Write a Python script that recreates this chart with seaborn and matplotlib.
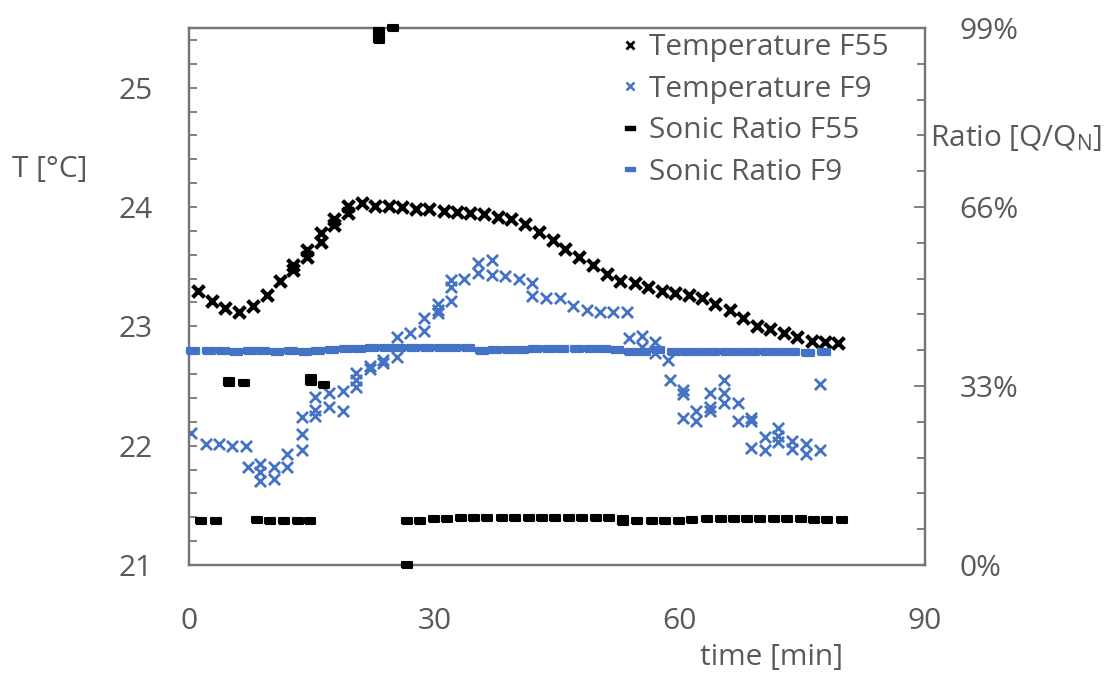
import matplotlib
matplotlib.use("Agg")
import matplotlib.pyplot as plt
from matplotlib.lines import Line2D
from matplotlib.ticker import MultipleLocator, FixedLocator, FuncFormatter
import seaborn as sns

# ---------------- data ----------------
# Temperature F55 (left axis, °C)
t_temp_f55 = [1.1, 2.8, 4.4, 6.1, 7.8, 9.5, 11.1, 12.7, 12.7, 14.4, 14.4, 16.1, 16.1,
              17.7, 17.7, 19.4, 19.4, 21.1, 22.8, 24.5, 26.1, 27.8, 29.4, 31.2, 32.8,
              34.4, 36.1, 37.8, 39.4, 41.1, 42.8, 44.5, 46.0, 47.7, 49.4, 51.1, 52.7,
              54.5, 56.1, 57.8, 59.4, 61.1, 62.7, 64.3, 66.2, 67.8, 69.4, 71.1, 72.8,
              74.4, 76.2, 77.8, 79.4]
temp_f55 = [23.30, 23.21, 23.15, 23.12, 23.17, 23.26, 23.38, 23.51, 23.47, 23.64, 23.58,
            23.78, 23.71, 23.90, 23.85, 24.01, 23.95, 24.03, 24.01, 24.01, 24.00, 23.98,
            23.98, 23.97, 23.96, 23.95, 23.94, 23.92, 23.90, 23.86, 23.79, 23.72, 23.65,
            23.58, 23.51, 23.44, 23.38, 23.36, 23.33, 23.30, 23.28, 23.26, 23.24, 23.19,
            23.14, 23.07, 23.00, 22.98, 22.94, 22.91, 22.88, 22.87, 22.86]

# Temperature F9 (left axis, °C)
t_temp_f9 = [0.2, 2.1, 3.7, 5.3, 7.0, 7.2, 8.7, 8.7, 8.7, 10.4, 10.4, 12.0, 12.0,
             13.8, 13.8, 13.8, 15.4, 15.4, 15.4, 17.1, 17.1, 18.8, 18.8, 20.4, 20.4, 20.4,
             22.1, 22.1, 23.7, 23.7, 25.4, 25.4, 27.0, 28.7, 28.7, 30.4, 30.4, 30.4,
             32.0, 32.0, 32.0, 33.6, 35.4, 35.4, 37.0, 37.0, 38.7, 40.3, 42.0, 42.0,
             43.7, 45.4, 47.0, 48.7, 50.3, 51.9, 53.6, 53.8, 55.4, 55.4, 57.0, 57.0,
             58.6, 58.8, 60.4, 60.4, 60.4, 62.0, 62.0, 63.7, 63.7, 63.7, 65.4, 65.4, 65.4,
             67.1, 67.1, 68.7, 68.7, 68.7, 70.4, 70.4, 72.0, 72.0, 72.0, 73.7, 73.7,
             75.4, 75.4, 77.1, 77.1]
temp_f9 = [22.11, 22.01, 22.01, 22.00, 22.00, 21.82, 21.85, 21.78, 21.70, 21.82, 21.72,
           21.82, 21.93, 21.96, 22.10, 22.24, 22.25, 22.30, 22.41, 22.44, 22.32, 22.46, 22.29,
           22.49, 22.55, 22.61, 22.64, 22.67, 22.69, 22.72, 22.74, 22.91, 22.94, 22.96, 23.07,
           23.11, 23.14, 23.19, 23.21, 23.33, 23.39, 23.40, 23.45, 23.53, 23.56, 23.43,
           23.42, 23.40, 23.36, 23.25, 23.24, 23.24, 23.17, 23.14, 23.12, 23.12, 23.12,
           22.90, 22.92, 22.83, 22.87, 22.78, 22.72, 22.55, 22.47, 22.43, 22.23, 22.29, 22.21,
           22.44, 22.32, 22.29, 22.55, 22.44, 22.36, 22.36, 22.21, 22.23, 22.21, 21.98,
           22.07, 21.96, 22.15, 22.08, 22.03, 22.04, 21.97, 22.01, 21.93, 21.96, 22.52]

# Sonic Ratio F55 (right axis, Q/QN)
t_ratio_f55 = [1.5, 3.3, 4.9, 4.9, 6.7, 8.3, 9.9, 11.6, 13.3, 14.8, 14.9, 14.9, 16.5,
               23.2, 23.2, 23.2, 24.9, 26.6, 26.6, 28.2, 30.0, 31.6, 33.2, 34.9, 36.5,
               38.3, 39.9, 41.6, 43.2, 44.8, 46.5, 48.1, 49.8, 51.4, 53.1, 53.1, 54.8,
               56.6, 58.2, 59.9, 61.5, 63.3, 65.0, 66.6, 68.2, 69.8, 71.5, 73.1, 74.8,
               76.4, 78.0, 79.8]
ratio_f55 = [0.0815, 0.0815, 0.340, 0.335, 0.336, 0.083, 0.081, 0.081, 0.081, 0.081,
             0.344, 0.337, 0.331, 0.985, 0.976, 0.968, 0.990, 0.000, 0.081, 0.082, 0.085,
             0.085, 0.086, 0.086, 0.087, 0.087, 0.087, 0.087, 0.087, 0.087, 0.087, 0.087,
             0.087, 0.087, 0.085, 0.080, 0.082, 0.082, 0.082, 0.082, 0.083, 0.085, 0.085,
             0.085, 0.085, 0.085, 0.085, 0.085, 0.085, 0.083, 0.083, 0.083]

# Sonic Ratio F9 (right axis, Q/QN)
t_ratio_f9 = [0.45, 2.5, 4.1, 5.7, 7.5, 9.1, 10.8, 12.5, 14.2, 15.8, 17.5, 19.2, 20.8,
              22.4, 24.1, 25.7, 27.4, 29.1, 30.8, 32.4, 34.1, 35.8, 37.4, 39.1, 40.7,
              42.3, 44.0, 45.6, 47.5, 49.1, 50.7, 52.3, 54.1, 55.6, 57.4, 59.3, 60.9,
              62.5, 64.1, 65.8, 67.4, 69.0, 70.7, 72.3, 73.9, 75.7, 77.6]
ratio_f9 = [0.3944, 0.3944, 0.3944, 0.3932, 0.3944, 0.3944, 0.3932, 0.3944, 0.3932,
            0.3944, 0.3962, 0.3975, 0.3987, 0.3993, 0.3993, 0.4005, 0.3993, 0.3993,
            0.3993, 0.3993, 0.3993, 0.3944, 0.3956, 0.3962, 0.3962, 0.3975, 0.3975,
            0.3981, 0.3975, 0.3975, 0.3975, 0.3962, 0.3932, 0.3932, 0.3962, 0.3926,
            0.3932, 0.3932, 0.3926, 0.3926, 0.3932, 0.3932, 0.3932, 0.3932, 0.3926,
            0.3913, 0.3926]

legend_labels = ["Temperature F55", "Temperature F9", "Sonic Ratio F55", "Sonic Ratio F9"]
x_ticks = [0, 30, 60, 90]
t_ticks = [21, 22, 23, 24, 25]
ratio_ticks = [0.0, 0.33, 0.66, 0.99]

# ---------------- style ----------------
sns.set_style("white")
plt.rcParams["font.family"] = ["Open Sans", "DejaVu Sans"]
plt.rcParams["mathtext.default"] = "regular"

TEXT = "#595959"
SPINE = "#767676"
BLACK = "#000000"
BLUE = "#4472C4"
FS = 21.5

fig = plt.figure(figsize=(11.1, 6.73), dpi=100)
ax = fig.add_axes([189 / 1110, 1 - 565 / 673, 736 / 1110, 537 / 673])
ax2 = ax.twinx()

dash = [(-1, -0.5), (1, -0.5), (1, 0.5), (-1, 0.5), (-1, -0.5)]

sns.scatterplot(x=t_temp_f9, y=temp_f9, ax=ax, marker="x", s=64, color=BLUE,
                linewidth=2.0, zorder=3)
sns.scatterplot(x=t_temp_f55, y=temp_f55, ax=ax, marker="x", s=72, color=BLACK,
                linewidth=3.0, zorder=4)
sns.scatterplot(x=t_ratio_f9, y=ratio_f9, ax=ax2, marker=dash, s=72, color=BLUE,
                edgecolor=BLUE, linewidth=1.6, clip_on=False, zorder=3)
sns.scatterplot(x=t_ratio_f55, y=ratio_f55, ax=ax2, marker=dash, s=60, color=BLACK,
                edgecolor=BLACK, linewidth=1.5, clip_on=False, zorder=4)

# axes limits & ticks
ax.set_xlim(0, 90)
ax.set_xticks(x_ticks)
ax.set_ylim(21, 25.5)
ax.set_yticks(t_ticks)
ax.yaxis.set_minor_locator(MultipleLocator(0.2))

ax2.set_ylim(0, 0.99)
ax2.set_yticks(ratio_ticks)
ax2.yaxis.set_minor_locator(FixedLocator([i * 0.066 for i in range(16) if i % 5 != 0]))
ax2.yaxis.set_major_formatter(FuncFormatter(lambda v, p: f"{round(v * 100)}%"))

ax.tick_params(axis="x", length=0, pad=30, labelsize=FS, labelcolor=TEXT)
ax.tick_params(axis="y", which="both", direction="in", length=6, width=1.3,
               color=SPINE, pad=26, labelsize=FS, labelcolor=TEXT)
ax2.tick_params(axis="y", which="major", direction="in", length=8, width=1.3,
                color=SPINE, pad=25, labelsize=FS, labelcolor=TEXT)
ax2.tick_params(axis="y", which="minor", direction="in", length=6, width=1.3, color=SPINE)
ax2.tick_params(axis="x", length=0, labelbottom=False)

for a in (ax, ax2):
    for sp in a.spines.values():
        sp.set_visible(True)
        sp.set_color(SPINE)
        sp.set_linewidth(1.6)

ax.set_xlabel("time [min]", fontsize=FS, color=TEXT, va="center", ha="center")
ax.xaxis.set_label_coords((772 - 189) / 736, (565 - 658) / 537)
ax.set_ylabel("T [°C]", fontsize=FS, color=TEXT, rotation=0, va="center", ha="center")
ax.yaxis.set_label_coords((50 - 189) / 736, (565 - 169) / 537)
ax2.set_ylabel(r"Ratio [Q/Q$_{N}$]", fontsize=FS, color=TEXT, rotation=0,
               va="center", ha="left")
ax2.yaxis.set_label_coords((930 - 189) / 736, (565 - 138) / 537)

handles = [
    Line2D([], [], ls="none", marker="x", color=BLACK, ms=6, mew=2.0),
    Line2D([], [], ls="none", marker="x", color=BLUE, ms=6, mew=1.8),
    Line2D([], [], ls="none", marker=dash, color=BLACK, ms=7),
    Line2D([], [], ls="none", marker=dash, color=BLUE, ms=7),
]
ax2.legend(handles, legend_labels, loc="upper left", bbox_to_anchor=(621 / 1110, 1 - 33 / 673),
           bbox_transform=fig.transFigure, frameon=False, fontsize=FS, labelcolor=TEXT,
           handlelength=0.6, handletextpad=0.35, labelspacing=0.42, borderpad=0,
           borderaxespad=0)

fig.savefig("out.png", dpi=100)
